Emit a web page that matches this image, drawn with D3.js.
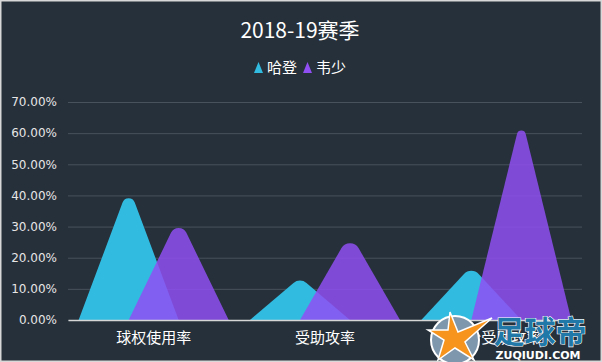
<!DOCTYPE html>
<html>
<head>
  <meta charset="utf-8" />
  <title>2018-19赛季</title>
  <script src="https://d3js.org/d3.v7.min.js"></script>
  <style>
    html, body { margin: 0; padding: 0; background: #d8d8d8; }
    #chart { width: 602px; height: 362px; }
  </style>
</head>
<body>
  <div id="chart"></div>

  <script>
    // data
    const categories = ["球权使用率", "受助攻率", "三分受助攻率"];
    const seriesNames = ["哈登", "韦少"];
    const harden = [39.5, 12.8, 16.0];
    const westbrook = [30.0, 25.1, 61.2];
    const yTicks = [0, 10, 20, 30, 40, 50, 60, 70];
    const colors = ["#32bbe0", "#8f4ff2"];

    const width = 602, height = 362;
    const marginLeft = 68, marginRight = 20, marginTop = 102, marginBottom = 42;

    const svg = d3.select("#chart").append("svg")
      .attr("width", width)
      .attr("height", height)
      .attr("viewBox", [0, 0, width, height]);

    // background with a thin light frame
    svg.append("rect")
      .attr("x", 1.5).attr("y", 1.5)
      .attr("width", width - 3).attr("height", height - 3)
      .attr("fill", "#26303a");

    const x = d3.scaleBand()
      .domain(categories)
      .range([marginLeft, width - marginRight])
      .padding(0);

    const y = d3.scaleLinear()
      .domain([0, 70])
      .range([height - marginBottom, marginTop]);

    // title
    svg.append("text")
      .attr("x", 300).attr("y", 38)
      .attr("text-anchor", "middle")
      .attr("fill", "#ffffff")
      .style("font", "21px 'Noto Sans CJK SC', sans-serif")
      .text("2018-19赛季");

    // legend
    const legend = svg.append("g").attr("transform", "translate(254,0)");
    const legendX = [0, 49];
    seriesNames.forEach((name, i) => {
      const g = legend.append("g").attr("transform", `translate(${legendX[i]},0)`);
      g.append("path")
        .attr("d", "M0,73 L4.5,62 L9,73 Z")
        .attr("fill", colors[i]);
      g.append("text")
        .attr("x", 13).attr("y", 73)
        .attr("fill", "#ffffff")
        .style("font", "15px 'Noto Sans CJK SC', sans-serif")
        .text(name);
    });

    // grid + y axis
    const yAxis = d3.axisLeft(y)
      .tickValues(yTicks)
      .tickSize(-(width - marginLeft - marginRight))
      .tickPadding(11)
      .tickFormat(d => d.toFixed(2) + "%");

    const gy = svg.append("g")
      .attr("transform", `translate(${marginLeft},0)`)
      .call(yAxis);
    gy.select(".domain").remove();
    gy.selectAll(".tick line").attr("stroke", "#47525c").attr("stroke-width", 1);
    gy.selectAll(".tick text")
      .attr("fill", "#e6e6e6")
      .style("font", "12px 'DejaVu Sans', sans-serif");

    // hill shapes: straight sides meeting in a rounded (filleted) tip
    function hill(cx, w, yt, yb) {
      const half = w / 2;
      let h = yb - yt;
      let theta = Math.atan(half / h);
      const r = Math.max(4.5, Math.min(10, 16 * Math.tan(theta)));
      // lift the virtual apex so the arc top sits on yt
      const lift = r / Math.sin(theta) - r;
      h = yb - (yt - lift);
      theta = Math.atan(half / h);
      const yv = yb - h;
      const d = r / Math.tan(theta);           // apex -> tangent point along a side
      const sideLen = Math.hypot(half, h);
      const tx = half * d / sideLen, ty = h * d / sideLen;
      return `M${cx - half},${yb} L${cx - tx},${yv + ty} ` +
        `A${r},${r} 0 0 1 ${cx + tx},${yv + ty} ` +
        `L${cx + half},${yb} Z`;
    }

    const barW = x.bandwidth() * 0.584;
    const offsets = [-barW / 4, barW / 4];
    [harden, westbrook].forEach((vals, si) => {
      svg.append("g")
        .selectAll("path")
        .data(vals)
        .join("path")
        .attr("d", (d, i) => hill(x(categories[i]) + x.bandwidth() / 2 + offsets[si], barW, y(d), y(0)))
        .attr("fill", colors[si])
        .attr("fill-opacity", si === 0 ? 1 : 0.85);
    });

    // x axis
    const xAxis = d3.axisBottom(x).tickSize(0).tickPadding(12);
    const gx = svg.append("g")
      .attr("transform", `translate(0,${y(0)})`)
      .call(xAxis);
    gx.select(".domain").attr("stroke", "#d6d6d6").attr("stroke-width", 1.5);
    gx.selectAll(".tick text")
      .attr("fill", "#ffffff")
      .style("font", "15px 'Noto Sans CJK SC', sans-serif");

    // watermark, rough
    const wm = svg.append("g");
    wm.append("circle")
      .attr("cx", 455).attr("cy", 340).attr("r", 24)
      .attr("fill", "#7f97ad").attr("stroke", "#ffffff").attr("stroke-width", 2);
    wm.append("path")
      .attr("d", "M450,312 L458,332 L492,318 L465,342 L474,360 L455,348 L438,360 L444,340 L428,330 L448,330 Z")
      .attr("fill", "#f7941d").attr("stroke", "#ffffff").attr("stroke-width", 1.5);
    wm.append("text")
      .attr("x", 540).attr("y", 343)
      .attr("text-anchor", "middle")
      .attr("fill", "#1f78a8").attr("stroke", "#ffffff").attr("stroke-width", 1.2)
      .attr("paint-order", "stroke")
      .style("font", "bold 31px 'Noto Sans CJK SC', sans-serif")
      .text("足球帝");
    wm.append("text")
      .attr("x", 538).attr("y", 359)
      .attr("text-anchor", "middle")
      .attr("fill", "#ffffff")
      .style("font", "bold 11px 'DejaVu Sans', sans-serif")
      .text("ZUQIUDI.COM");
  </script>
</body>
</html>
